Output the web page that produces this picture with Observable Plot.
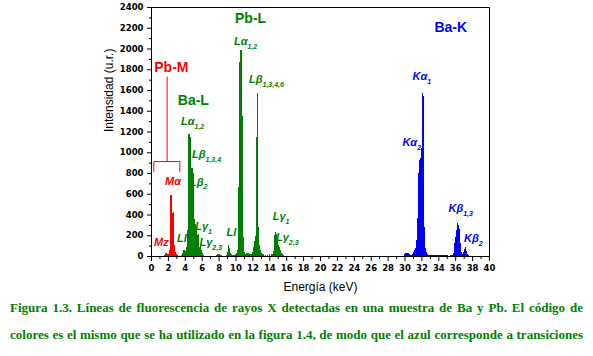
<!DOCTYPE html>
<html>
<head>
<meta charset="utf-8">
<script src="https://cdn.jsdelivr.net/npm/d3@7"></script>
<script src="https://cdn.jsdelivr.net/npm/@observablehq/plot@0.6"></script>
<style>
  body { margin: 0; background: white; }
  #chart svg { display: block; }
  .caption { width: 573px; margin-left: 10px; margin-top: -6px; color: #008000;
    font-family: "Liberation Serif", "Times New Roman", serif; font-weight: bold; font-size: 13px; line-height: 27px; }
  .caption div { white-space: nowrap; text-align: justify; text-align-last: justify; }
  .caption .tight { word-spacing: -2.5px; }
</style>
</head>
<body>
<div id="chart"></div>
<div class="caption">
  <div>Figura 1.3. Líneas de fluorescencia de rayos X detectadas en una muestra de Ba y Pb. El código de</div>
  <div class="tight">colores es el mismo que se ha utilizado en la figura 1.4, de modo que el azul corresponde a transiciones</div>
</div>
<script>
// ---- Data: spectrum channels (energy keV, intensity u.r.) ----
const redEnergy = [1.62,1.74,1.86,1.98,2.10,2.22,2.34,2.46,2.58,2.70,2.82,2.94,3.06,3.18];
const redCounts = [8,25,32,22,18,60,588,585,410,420,110,40,22,10];

const greenEnergy = [3.66,3.78,3.90,4.02,4.14,4.26,4.38,4.50,4.62,4.74,4.86,4.98,5.10,5.22,5.34,5.46,5.58,5.70,5.82,5.94,6.06,6.18,
  7.74,7.86,7.98,8.10,8.22,8.34,8.94,9.06,9.18,9.30,9.42,9.54,9.66,9.78,9.90,
  10.02,10.14,10.30,10.42,10.54,10.66,10.78,10.90,11.02,11.14,11.26,11.38,11.50,11.62,11.74,11.86,
  12.02,12.14,12.26,12.38,12.50,12.62,12.74,12.86,12.98,13.10,13.22,13.34,13.58,13.82,14.06,14.28,
  14.40,14.52,14.64,14.76,14.88,15.00,15.12,15.24,15.36,15.48,15.60,15.72];
const greenCounts = [8,30,55,40,50,85,250,1180,1150,300,850,800,360,310,250,200,215,90,105,55,25,12,
  12,18,18,15,12,8,8,40,106,80,30,15,10,10,8,
  15,25,60,665,1870,1985,1350,180,40,20,25,25,25,20,18,20,
  40,90,140,190,1150,1575,280,110,60,30,20,15,12,12,15,15,
  20,50,200,228,215,150,110,90,60,30,15,8];

const blueEnergy = [30.06,30.18,30.30,30.42,30.54,30.66,30.78,30.90,31.02,31.14,31.26,31.38,31.50,31.62,31.74,31.86,31.98,32.10,32.22,32.34,32.46,32.58,32.70,
  32.82,32.94,33.06,33.18,33.30,33.42,33.54,33.66,33.78,33.90,34.02,34.14,34.26,34.38,34.50,34.62,34.74,34.86,34.98,35.10,
  35.40,35.52,35.64,35.76,35.88,36.00,36.12,36.24,36.36,36.48,36.60,36.72,36.84,36.96,37.08,37.20,37.32,37.44,37.56];
const blueCounts = [20,30,30,25,15,10,12,15,35,55,80,150,366,800,925,940,1040,1574,1540,283,80,40,20,
  12,10,10,12,10,10,10,12,10,10,10,10,10,12,10,10,10,10,10,10,
  5,8,10,30,125,180,250,321,300,260,125,40,20,40,70,84,50,18,8];

const binWidth = 0.12;

// ---- Axes ----
const xMajorTicks = [0,2,4,6,8,10,12,14,16,18,20,22,24,26,28,30,32,34,36,38,40];
const xMinorTicks = [1,3,5,7,9,11,13,15,17,19,21,23,25,27,29,31,33,35,37,39];
const yMajorTicks = [0,200,400,600,800,1000,1200,1400,1600,1800,2000,2200,2400];
const yMinorTicks = [100,300,500,700,900,1100,1300,1500,1700,1900,2100,2300];

// ---- Line annotations (main text + subscript), anchored at join point ----
const lineMain  = ["Lα","Lβ","Lα","Lβ","Lβ","Lγ","Lγ","Lγ","Lγ","Kα","Kα","Kβ","Kβ"];
const lineSub   = ["1,2","1,3,4,6","1,2","1,3,4","2","1","2,3","1","2,3","1","2","1,3","2"];
const lineE     = [11.36,13.14,5.09,6.39,6.15,6.70,7.20,15.86,16.25,32.63,31.44,36.89,38.73];
const lineI     = [2073,1706,1301,983,716,289,135,386,183,1735,1099,463,174];
const lineColor = ["green","green","green","green","green","green","green","green","green","blue","blue","blue","blue"];

const plainText  = ["Mα","Mz","Ll","Ll"];
const plainE     = [2.54,1.16,3.60,9.45];
const plainI     = [723,135,174,232];
const plainColor = ["red","red","green","green"];

const groupText  = ["Pb-M","Ba-L","Pb-L","Ba-K"];
const groupE     = [2.35,4.95,11.72,35.42];
const groupI     = [1817,1504,2297,2208];
const groupColor = ["red","green","green","blue"];

const bracketE = [0.27,0.27,3.35,3.35];
const bracketI = [820,915,915,820];
const stemE = [1.85,1.85];
const stemI = [915,1730];

const colors = {red: "#ff0000", green: "#008000", blue: "#0000ff"};

const toRows = (E, C) => E.map((e, i) => ({e, c: C[i]}));
const red = toRows(redEnergy, redCounts);
const green = toRows(greenEnergy, greenCounts);
const blue = toRows(blueEnergy, blueCounts);
const bars = (rows, fill) => Plot.rectY(rows, {
  x1: d => d.e - binWidth / 2 - 0.01, x2: d => d.e + binWidth / 2 + 0.01, y: "c",
  fill, shapeRendering: "crispEdges"
});

const lines = lineMain.map((m, i) => ({m, s: lineSub[i], e: lineE[i], c: lineI[i], col: colors[lineColor[i]]}));
const plains = plainText.map((t, i) => ({t, e: plainE[i], c: plainI[i], col: colors[plainColor[i]]}));
const groups = groupText.map((t, i) => ({t, e: groupE[i], c: groupI[i], col: colors[groupColor[i]]}));

const sans = "Liberation Sans, Arial, sans-serif";
const tickFont = {fontFamily: "DejaVu Sans", fontSize: 8.5, fontWeight: "bold"};

const chart = Plot.plot({
  width: 593, height: 300,
  marginLeft: 151, marginRight: 104, marginTop: 7, marginBottom: 44,
  x: {domain: [0, 40], label: null},
  y: {domain: [0, 2400], label: null},
  style: {background: "white", color: "black", fontFamily: sans},
  marks: [
    bars(red, colors.red),
    bars(green, colors.green),
    bars(blue, colors.blue),
    Plot.line(bracketE.map((e, i) => ({e, c: bracketI[i]})), {x: "e", y: "c", stroke: colors.red, strokeWidth: 1}),
    Plot.line(stemE.map((e, i) => ({e, c: stemI[i]})), {x: "e", y: "c", stroke: colors.red, strokeWidth: 1}),
    Plot.frame({stroke: "black", strokeWidth: 1}),
    Plot.axisX({ticks: xMajorTicks, tickSize: 5, tickPadding: 3, tickFormat: d3.format("d"), ...tickFont, label: null}),
    Plot.axisX({ticks: xMinorTicks, tickSize: 3, text: null, label: null}),
    Plot.axisY({ticks: yMajorTicks, tickSize: 4, tickPadding: 4, tickFormat: d3.format("d"), ...tickFont, label: null}),
    Plot.axisY({ticks: yMinorTicks, tickSize: 2, text: null, label: null}),
    Plot.text(["Energía (keV)"], {frameAnchor: "bottom", dy: 34, fontSize: 12, fontFamily: sans}),
    Plot.text(["Intensidad (u.r.)"], {frameAnchor: "left", dx: -42, rotate: -90, fontSize: 12, fontFamily: sans}),
    Plot.text(lines, {x: "e", y: "c", text: "m", fill: "col", textAnchor: "end", fontSize: 11, fontStyle: "italic", fontWeight: "bold", fontFamily: sans}),
    Plot.text(lines, {x: "e", y: "c", text: "s", fill: "col", textAnchor: "start", dy: 5, fontSize: 7, fontStyle: "italic", fontWeight: "bold", fontFamily: sans}),
    Plot.text(plains, {x: "e", y: "c", text: "t", fill: "col", fontSize: 11, fontStyle: "italic", fontWeight: "bold", fontFamily: sans}),
    Plot.text(groups, {x: "e", y: "c", text: "t", fill: "col", fontSize: 14, fontWeight: "bold", fontFamily: sans})
  ]
});
document.getElementById("chart").appendChild(chart);
</script>
</body>
</html>
